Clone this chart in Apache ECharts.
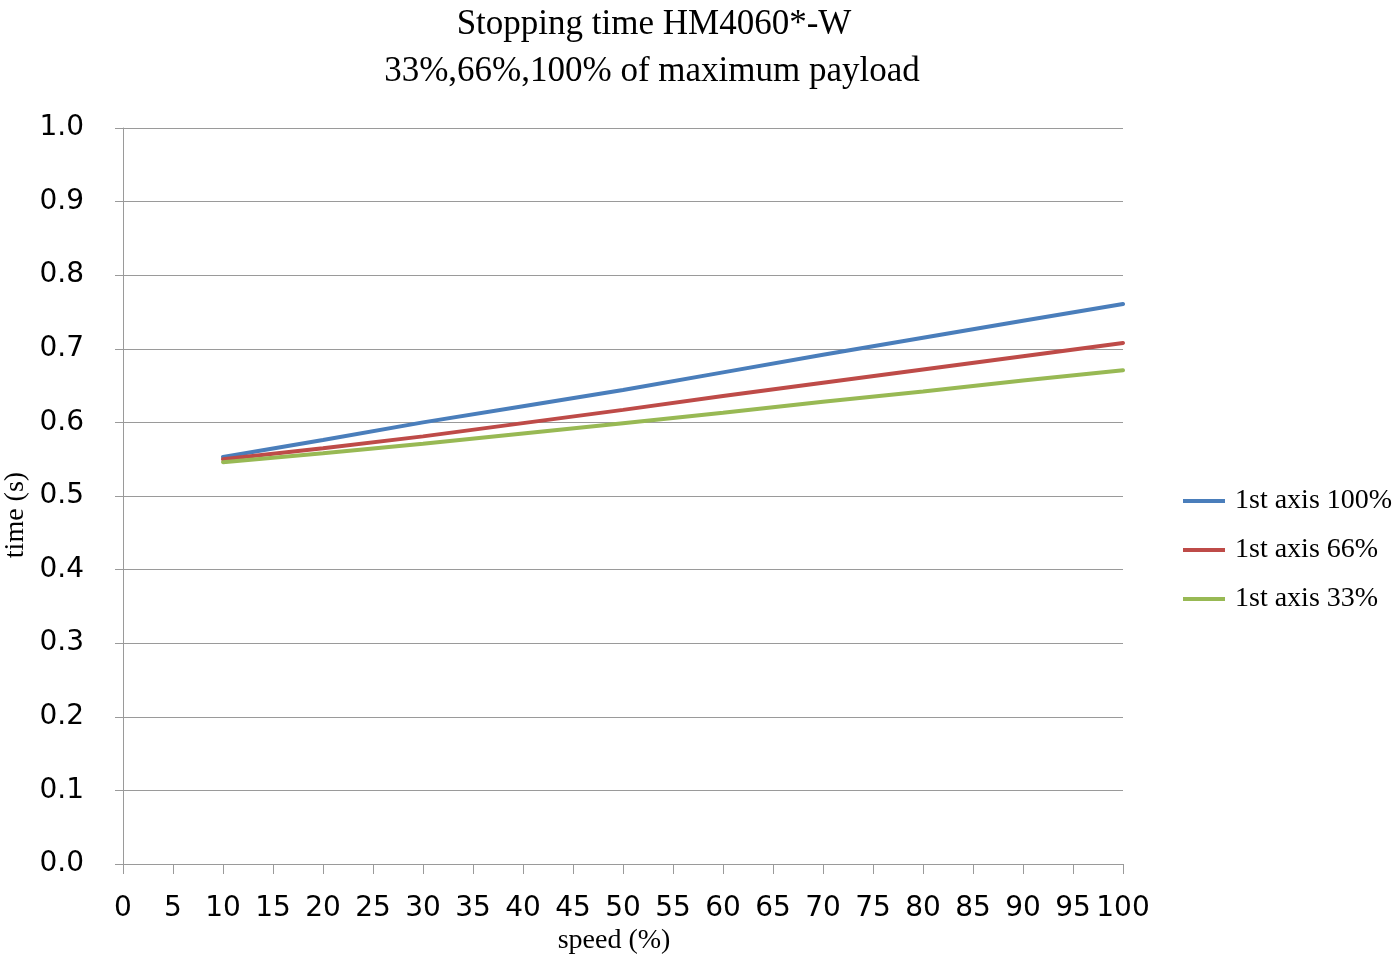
<!DOCTYPE html>
<html>
<head>
<meta charset="utf-8">
<script src="https://cdn.jsdelivr.net/npm/echarts@6/dist/echarts.min.js"></script>
<style>html,body{margin:0;padding:0;background:#fff}#c{width:1398px;height:959px}</style>
</head>
<body>
<div id="c"></div>
<script>
var speeds = [10, 20, 30, 40, 50, 60, 70, 80, 90, 100];
var axis100 = [0.553, 0.576, 0.600, 0.622, 0.644, 0.668, 0.692, 0.715, 0.738, 0.761];
var axis66 = [0.550, 0.565, 0.581, 0.599, 0.617, 0.636, 0.654, 0.672, 0.690, 0.708];
var axis33 = [0.546, 0.558, 0.571, 0.585, 0.599, 0.613, 0.628, 0.642, 0.657, 0.671];
var seriesNames = ['1st axis 100%', '1st axis 66%', '1st axis 33%'];
var colors = ['#4a7ebb', '#be4b48', '#98b954'];
var titleLines = ['Stopping time HM4060*-W', '33%,66%,100% of maximum payload'];
var xName = 'speed (%)';
var yName = 'time (s)';

function pairs(vals) { return speeds.map(function (s, i) { return [s, vals[i]]; }); }
var allVals = [axis100, axis66, axis33];

var chart = echarts.init(document.getElementById('c'));
var serif = '"Liberation Serif", "Times New Roman", serif';
var sans = '"DejaVu Sans", Verdana, sans-serif';
var gridColor = '#9a9a9a';

chart.setOption({
  backgroundColor: '#fff',
  animation: false,
  title: [
    { text: titleLines[0], left: 649, top: 2, textAlign: 'center',
      textStyle: { fontFamily: serif, fontSize: 35, fontWeight: 'normal', color: '#000' } },
    { text: titleLines[1], left: 647, top: 49, textAlign: 'center',
      textStyle: { fontFamily: serif, fontSize: 35, fontWeight: 'normal', color: '#000' } }
  ],
  legend: {
    orient: 'vertical', left: 1183, top: 487, padding: 0,
    itemWidth: 42, itemHeight: 4, itemGap: 21, icon: 'rect',
    textStyle: { fontFamily: serif, fontSize: 28, color: '#000', lineHeight: 28, padding: [0, 0, 0, 5] },
    data: seriesNames
  },
  graphic: [
    { type: 'text', x: 16, y: 515, rotation: Math.PI / 2,
      style: { text: yName, fontFamily: serif, fontSize: 28, fill: '#000', align: 'center', verticalAlign: 'middle' } },
    { type: 'text', x: 614, y: 941,
      style: { text: xName, fontFamily: serif, fontSize: 28, fill: '#000', align: 'center', verticalAlign: 'middle' } }
  ],
  grid: { left: 123, right: 275, top: 128, bottom: 95, outerBoundsMode: 'none', containLabel: false },
  xAxis: {
    type: 'value', min: 0, max: 100, interval: 5,
    axisLine: { show: true, lineStyle: { color: gridColor, width: 1 } },
    axisTick: { show: true, length: 10, lineStyle: { color: gridColor } },
    axisLabel: { fontFamily: sans, fontSize: 28, color: '#000', margin: 31 },
    splitLine: { show: false }
  },
  yAxis: {
    type: 'value', min: 0, max: 1, interval: 0.1,
    axisLine: { show: true, lineStyle: { color: gridColor, width: 1 } },
    axisTick: { show: true, length: 8, lineStyle: { color: gridColor } },
    axisLabel: { fontFamily: sans, fontSize: 28, color: '#000', margin: 39,
      formatter: function (v) { return v.toFixed(1); } },
    splitLine: { show: true, lineStyle: { color: gridColor, width: 1 } }
  },
  series: seriesNames.map(function (n, i) {
    return {
      name: n, type: 'line', data: pairs(allVals[i]), showSymbol: false, symbol: 'none',
      itemStyle: { color: colors[i] },
      lineStyle: { color: colors[i], width: 4, cap: 'round' }
    };
  })
});
</script>
</body>
</html>
